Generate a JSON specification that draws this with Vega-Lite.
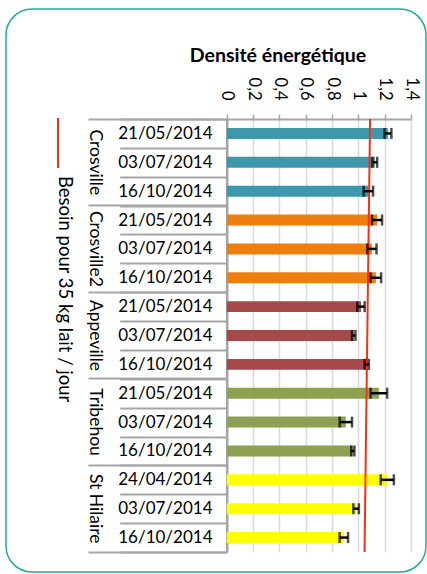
{
  "$schema": "https://vega.github.io/schema/vega-lite/v6.json",
  "width": 420,
  "height": 563,
  "autosize": "none",
  "padding": {"left": 6, "top": 9, "right": 1, "bottom": 2},
  "background": "white",
  "config": {
    "view": {"stroke": "#1fad9f", "strokeWidth": 1.5, "cornerRadius": 26, "fill": "white"},
    "font": "Lato",
    "axis": {"labelFont": "Lato", "labelColor": "black", "domainColor": "#a6a6a6", "tickColor": "#a6a6a6"}
  },
  "title": {"text": "Densité énergétique", "font": "Lato", "fontSize": 19.5, "fontWeight": "bold", "color": "black", "anchor": "middle", "frame": "group", "dx": 62, "offset": -66},
  "datasets": {
    "bars": [
      {"key": "Crosville|21/05/2014", "group": "Crosville", "value": 1.225, "lo": 1.199, "hi": 1.251},
      {"key": "Crosville|03/07/2014", "group": "Crosville", "value": 1.125, "lo": 1.107, "hi": 1.143},
      {"key": "Crosville|16/10/2014", "group": "Crosville", "value": 1.076, "lo": 1.040, "hi": 1.112},
      {"key": "Crosville2|21/05/2014", "group": "Crosville2", "value": 1.142, "lo": 1.104, "hi": 1.180},
      {"key": "Crosville2|03/07/2014", "group": "Crosville2", "value": 1.103, "lo": 1.068, "hi": 1.138},
      {"key": "Crosville2|16/10/2014", "group": "Crosville2", "value": 1.133, "lo": 1.093, "hi": 1.173},
      {"key": "Appeville|21/05/2014", "group": "Appeville", "value": 1.020, "lo": 0.992, "hi": 1.048},
      {"key": "Appeville|03/07/2014", "group": "Appeville", "value": 0.965, "lo": 0.952, "hi": 0.978},
      {"key": "Appeville|16/10/2014", "group": "Appeville", "value": 1.064, "lo": 1.048, "hi": 1.080},
      {"key": "Tribehou|21/05/2014", "group": "Tribehou", "value": 1.156, "lo": 1.093, "hi": 1.219},
      {"key": "Tribehou|03/07/2014", "group": "Tribehou", "value": 0.905, "lo": 0.858, "hi": 0.952},
      {"key": "Tribehou|16/10/2014", "group": "Tribehou", "value": 0.958, "lo": 0.946, "hi": 0.970},
      {"key": "St Hilaire|24/04/2014", "group": "St Hilaire", "value": 1.220, "lo": 1.170, "hi": 1.270},
      {"key": "St Hilaire|03/07/2014", "group": "St Hilaire", "value": 0.983, "lo": 0.962, "hi": 1.004},
      {"key": "St Hilaire|16/10/2014", "group": "St Hilaire", "value": 0.890, "lo": 0.858, "hi": 0.922}
    ],
    "need": [
      {"pos": 0, "need": 1.089},
      {"pos": 1, "need": 1.047}
    ]
  },
  "data": {"name": "bars"},
  "layer": [
    {
      "mark": {"type": "bar", "height": {"band": 0.38}},
      "encoding": {
        "y": {
          "field": "key", "type": "nominal", "sort": null,
          "scale": {"range": [110, 543], "paddingInner": 0, "paddingOuter": 0},
          "axis": {
            "orient": "left", "offset": -220.7, "title": null,
            "labelExpr": "split(datum.label, '|')[1]",
            "labelAlign": "right", "labelBaseline": "middle", "labelAngle": 0,
            "labelFontSize": 17, "labelPadding": -92.3, "labelLimit": 0,
            "tickBand": "extent", "tickSize": 107, "tickWidth": 2,
            "domainWidth": 2.5, "grid": false
          }
        },
        "x": {
          "field": "value", "type": "quantitative", "title": null,
          "scale": {"domain": [0, 1.4], "range": [220.7, 405], "nice": false},
          "axis": {
            "orient": "top", "offset": -110,
            "values": [0, 0.2, 0.4, 0.6, 0.8, 1, 1.2, 1.4],
            "labelExpr": "replace(format(datum.value, '.1~f'), '.', ',')",
            "labelAngle": 90, "labelAlign": "right", "labelBaseline": "middle",
            "labelPadding": 14, "labelFontSize": 16.5, "labelOverlap": false, "labelFlush": false,
            "tickSize": 5, "tickWidth": 1.5, "domainWidth": 2,
            "grid": true, "gridColor": "#d9d9d9", "gridWidth": 1.5
          }
        },
        "color": {
          "field": "group", "type": "nominal", "legend": null,
          "scale": {
            "domain": ["Crosville", "Crosville2", "Appeville", "Tribehou", "St Hilaire"],
            "range": ["#3e98ab", "#ec7f0e", "#a6494a", "#8da251", "#ffff00"]
          }
        }
      }
    },
    {
      "data": {"name": "need"},
      "mark": {"type": "line", "strokeWidth": 2},
      "encoding": {
        "y": {"field": "pos", "type": "quantitative", "scale": {"domain": [0, 1], "range": [110, 543], "nice": false, "zero": false}, "axis": null},
        "x": {"field": "need", "type": "quantitative", "title": null, "scale": {"domain": [0, 1.4], "range": [220.7, 405], "nice": false}},
        "stroke": {
          "datum": "Besoin pour 35 kg lait / jour",
          "scale": {"range": ["#ff2d0d"]},
          "legend": {
            "orient": "none", "legendX": 26, "legendY": 108, "title": null,
            "symbolType": "M0,-1L0,1", "symbolSize": 2500, "symbolStrokeWidth": 2,
            "labelFont": "Lato", "labelFontSize": 18.5, "labelColor": "black", "labelOffset": -19, "labelLimit": 0,
            "encode": {"labels": {"update": {"angle": {"value": 90}, "dx": {"value": 33}}}}
          }
        }
      }
    },
    {
      "mark": {"type": "rule", "color": "black", "strokeWidth": 2.5},
      "encoding": {
        "y": {
          "field": "key", "type": "nominal", "sort": null,
          "scale": {"range": [110, 543], "paddingInner": 0, "paddingOuter": 0},
          "axis": {
            "orient": "left", "offset": -220.7, "title": null,
            "values": ["Crosville|03/07/2014", "Crosville2|03/07/2014", "Appeville|03/07/2014", "Tribehou|03/07/2014", "St Hilaire|03/07/2014"],
            "labelExpr": "split(datum.label, '|')[0]",
            "labelAngle": 90, "labelAlign": "center", "labelBaseline": "middle",
            "labelFontSize": 17.5, "labelPadding": 132.7, "labelLimit": 0,
            "ticks": false, "domain": false, "grid": false
          }
        },
        "x": {"field": "lo", "type": "quantitative", "title": null, "scale": {"domain": [0, 1.4], "range": [220.7, 405], "nice": false}},
        "x2": {"field": "hi"}
      }
    },
    {
      "mark": {"type": "tick", "color": "black", "size": 11, "thickness": 2.5},
      "encoding": {
        "y": {
          "field": "key", "type": "nominal", "sort": null,
          "scale": {"range": [110, 543], "paddingInner": 0, "paddingOuter": 0},
          "axis": {
            "orient": "left", "offset": -220.7, "title": null,
            "values": ["Crosville|21/05/2014", "Crosville2|21/05/2014", "Appeville|21/05/2014", "Tribehou|21/05/2014", "St Hilaire|24/04/2014"],
            "bandPosition": 0, "tickSize": 138.7, "tickWidth": 2,
            "labels": false, "domain": false, "grid": false
          }
        },
        "x": {"field": "lo", "type": "quantitative", "title": null, "scale": {"domain": [0, 1.4], "range": [220.7, 405], "nice": false}}
      }
    },
    {
      "mark": {"type": "tick", "color": "black", "size": 11, "thickness": 2.5},
      "encoding": {
        "y": {
          "field": "key", "type": "nominal", "sort": null,
          "scale": {"range": [110, 543], "paddingInner": 0, "paddingOuter": 0},
          "axis": {
            "orient": "left", "offset": -220.7, "title": null,
            "values": ["St Hilaire|16/10/2014"],
            "bandPosition": 1, "tickSize": 138.7, "tickWidth": 2,
            "labels": false, "domain": false, "grid": false
          }
        },
        "x": {"field": "hi", "type": "quantitative", "title": null, "scale": {"domain": [0, 1.4], "range": [220.7, 405], "nice": false}}
      }
    }
  ],
  "resolve": {"scale": {"y": "independent"}}
}
